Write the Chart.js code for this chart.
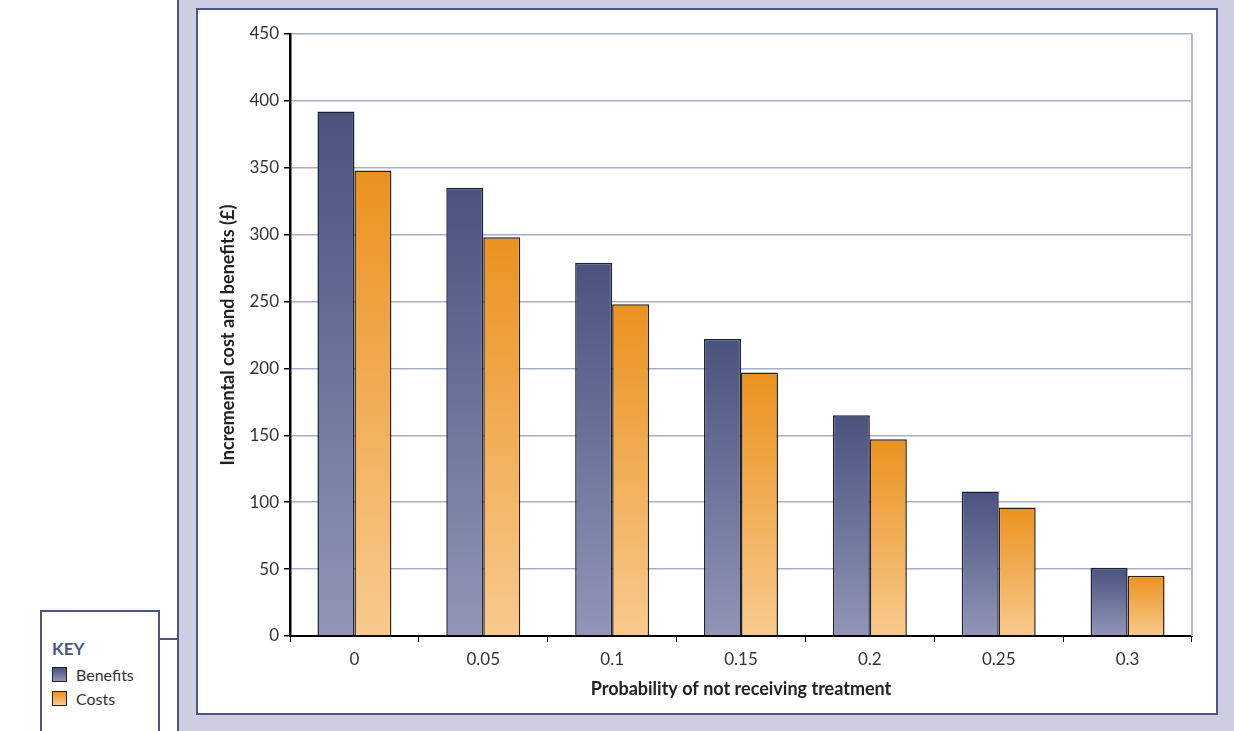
<!DOCTYPE html>
<html lang="en">
<head>
  <meta charset="UTF-8">
  <title>Incremental cost and benefits</title>
  <script src="https://cdn.jsdelivr.net/npm/chart.js"></script>
  <style>
    body {
      margin: 0;
      background: #ffffff;
      font-family: Lato, "Open Sans", sans-serif;
      overflow: hidden;
    }

    .frame {
      position: absolute;
      left: 177px;
      top: 0;
      width: 1057px;
      height: 731px;
      background: #cdcee1;
      border-left: 2px solid #4d5585;
      box-sizing: border-box;
    }

    .panel {
      position: absolute;
      left: 196px;
      top: 8px;
      width: 1022px;
      height: 707px;
      background: #ffffff;
      border: 2px solid #4d5585;
      box-sizing: border-box;
    }

    .key {
      position: absolute;
      left: 40px;
      top: 610px;
      width: 120px;
      height: 140px;
      border: 2px solid #4d5585;
      box-sizing: border-box;
      background: #ffffff;
    }

    .key-link {
      position: absolute;
      left: 159px;
      top: 638px;
      width: 19px;
      height: 2px;
      background: #4d5585;
    }

    .key h4 {
      margin: 0;
      position: absolute;
      left: 10px;
      top: 26px;
      font-size: 17px;
      font-weight: bold;
      color: #4d5585;
    }

    .key .item {
      position: absolute;
      left: 10px;
      font-size: 16px;
      color: #333;
      display: flex;
      align-items: center;
    }

    .key .swatch {
      width: 15px;
      height: 15px;
      border: 1px solid #222;
      margin-right: 9px;
      box-sizing: border-box;
    }

    #wrap {
      position: absolute;
      left: 0;
      top: 0;
      width: 1234px;
      height: 731px;
    }
  </style>
</head>
<body>

  <div class="frame"></div>
  <div class="panel"></div>
  <div class="key-link"></div>
  <div class="key" id="key"><h4>KEY</h4></div>

  <div id="wrap"><canvas id="costChart"></canvas></div>

  <script>
    const categories = ['0', '0.05', '0.1', '0.15', '0.2', '0.25', '0.3'];
    const benefits = [392, 335, 279, 222, 165, 108, 51];
    const costs = [348, 298, 248, 197, 147, 96, 45];
    const seriesNames = ['Benefits', 'Costs'];
    const yTicks = [0, 50, 100, 150, 200, 250, 300, 350, 400, 450];

    // top / bottom colour of each bar's vertical gradient
    const shades = {
      Benefits: ['#4a527e', '#9196b8'],
      Costs: ['#eb921f', '#f8ca8e']
    };

    function barFill(name) {
      return (context) => {
        const chart = context.chart;
        const y = chart.scales.y;
        if (!chart.chartArea || !y || context.raw === undefined) return shades[name][0];
        const top = y.getPixelForValue(context.raw);
        const bottom = y.getPixelForValue(0);
        const g = chart.ctx.createLinearGradient(0, top, 0, bottom);
        g.addColorStop(0, shades[name][0]);
        g.addColorStop(1, shades[name][1]);
        return g;
      };
    }

    // thin line closing the plot area on the right
    const rightEdge = {
      id: 'rightEdge',
      beforeDatasetsDraw(chart) {
        const { ctx, chartArea } = chart;
        ctx.save();
        ctx.strokeStyle = '#b4b7d2';
        ctx.lineWidth = 2;
        ctx.beginPath();
        ctx.moveTo(chartArea.right, chartArea.top);
        ctx.lineTo(chartArea.right, chartArea.bottom);
        ctx.stroke();
        ctx.restore();
      }
    };

    const ctx = document.getElementById('costChart').getContext('2d');

    const chart = new Chart(ctx, {
      type: 'bar',
      data: {
        labels: categories,
        datasets: [
          {
            label: seriesNames[0],
            data: benefits,
            backgroundColor: barFill('Benefits'),
            borderColor: '#1c1f33',
            borderWidth: 1.5,
            borderSkipped: 'bottom'
          },
          {
            label: seriesNames[1],
            data: costs,
            backgroundColor: barFill('Costs'),
            borderColor: '#2a2012',
            borderWidth: 1.5,
            borderSkipped: 'bottom'
          }
        ]
      },
      options: {
        responsive: true,
        maintainAspectRatio: false,
        animation: false,
        categoryPercentage: 0.574,
        barPercentage: 1,
        layout: {
          padding: { left: 200, right: 42, top: 34, bottom: 17 }
        },
        plugins: {
          legend: { display: false },
          tooltip: { enabled: false }
        },
        scales: {
          x: {
            afterFit: (scale) => { scale.height = 78; },
            grid: {
              offset: true,
              drawOnChartArea: false,
              color: '#000',
              tickLength: 6
            },
            border: { color: '#000', width: 2 },
            ticks: {
              color: '#333',
              padding: 7,
              font: { family: 'Lato', size: 17 }
            },
            title: {
              display: true,
              text: 'Probability of not receiving treatment',
              color: '#222',
              font: { family: 'Lato', size: 18, weight: 'bold' },
              padding: { bottom: 14 }
            }
          },
          y: {
            min: 0,
            max: 450,
            afterFit: (scale) => { scale.width = 90; },
            afterBuildTicks: (scale) => {
              scale.ticks = yTicks.map(v => ({ value: v }));
            },
            grid: {
              color: '#a9adca',
              lineWidth: 1.5,
              tickColor: '#000',
              tickLength: 6
            },
            border: { color: '#000', width: 2.5 },
            ticks: {
              color: '#333',
              padding: 5,
              font: { family: 'Lato', size: 17 }
            },
            title: {
              display: true,
              text: 'Incremental cost and benefits (£)',
              color: '#222',
              font: { family: 'Lato', size: 18, weight: 'bold' },
              padding: { top: 17 }
            }
          }
        }
      },
      plugins: [rightEdge]
    });

    // key entries built from the same series names and colours
    const key = document.getElementById('key');
    seriesNames.forEach((name, i) => {
      const item = document.createElement('div');
      item.className = 'item';
      item.style.top = (53 + i * 24) + 'px';
      const sw = document.createElement('span');
      sw.className = 'swatch';
      sw.style.background = 'linear-gradient(' + shades[name][0] + ', ' + shades[name][1] + ')';
      item.appendChild(sw);
      item.appendChild(document.createTextNode(name));
      key.appendChild(item);
    });
  </script>

</body>
</html>
